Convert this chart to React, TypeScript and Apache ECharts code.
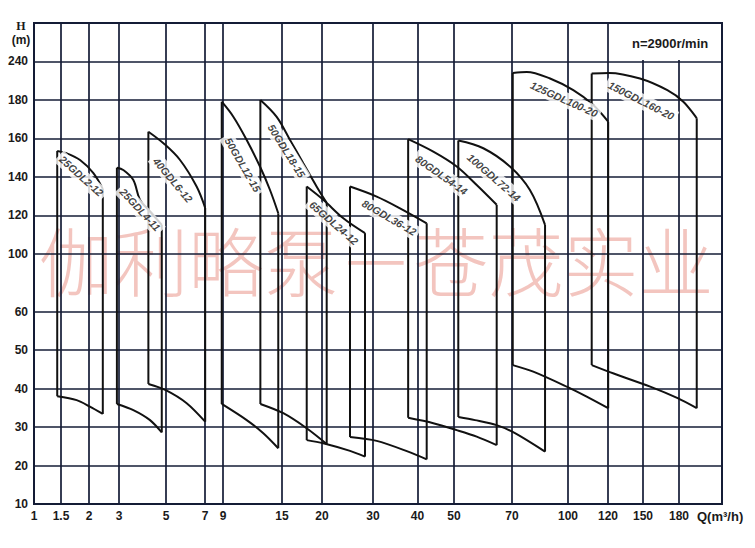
import React, { useEffect, useRef } from "react";
import * as echarts from "echarts";

// ---- axis scale (the chart uses a hand-drawn, non-uniform scale) ----
const Q_TICKS = [1, 1.5, 2, 3, 5, 7, 9, 15, 20, 30, 40, 50, 70, 100, 120, 150, 180];
const Q_TICK_POS = [0, 27, 55, 85, 132, 171, 189, 248, 288, 339, 383.5, 420, 478, 534, 574, 609, 645];
const Q_END = 220;
const Q_END_POS = 688;

const H_TICKS = [10, 20, 30, 40, 50, 60, 100, 120, 140, 160, 180, 240];
const H_TICK_POS = [0, 1, 2, 3, 4, 5, 6.5, 7.5, 8.5, 9.5, 10.5, 11.5];
const H_END = 300;
const H_END_POS = 12.5;

// ---- pump curves: [Q (m3/h), H (m)] ----
const P25GDL2_TOP = [[1.43, 153.5], [1.6, 152.3], [1.84, 148.8], [2.14, 142.1], [2.46, 133.8]];
const P25GDL2_BOT = [[1.43, 38.0], [1.78, 37.0], [2.03, 35.3], [2.46, 33.4]];

const P25GDL4_TOP = [[2.93, 144.8], [3.18, 143.6], [3.61, 138.4], [3.89, 128.1], [4.32, 122.0], [4.82, 115.1]];
const P25GDL4_BOT = [[2.93, 36.0], [3.61, 34.4], [4.32, 31.8], [4.82, 28.6]];

const P40GDL6_TOP = [[4.25, 163.5], [4.89, 157.5], [5.72, 148.8], [6.57, 135.0], [7.02, 123.9]];
const P40GDL6_BOT = [[4.25, 41.2], [4.99, 39.6], [6.06, 36.2], [7.02, 31.4]];

const P50GDL12_TOP = [[8.86, 179.1], [10.05, 171.3], [11.41, 159.2], [12.76, 145.4], [13.78, 133.2], [14.62, 121.1]];
const P50GDL12_BOT = [[8.86, 36.0], [11.41, 31.8], [13.1, 28.4], [14.62, 24.5]];

const P50GDL18_TOP = [[12.8, 180.0], [14.46, 171.2], [16.0, 159.2], [17.66, 147.1], [19.34, 134.9], [20.92, 126.5]];
const P50GDL18_BOT = [[12.8, 36.0], [15.16, 33.6], [18.08, 29.7], [20.92, 25.6]];

const P65GDL24_TOP = [[18.09, 135.0], [20.25, 128.1], [24.18, 118.5], [28.43, 110.8]];
const P65GDL24_BOT = [[18.09, 26.6], [20.25, 25.8], [25.5, 23.8], [28.43, 22.3]];

const P80GDL36_TOP = [[25.49, 135.0], [30.83, 129.8], [36.07, 123.7], [42.52, 115.9]];
const P80GDL36_BOT = [[25.49, 27.4], [30.83, 26.4], [37.9, 23.6], [42.52, 21.6]];

const P80GDL54_TOP = [[37.9, 159.6], [44.33, 153.1], [50.93, 145.4], [57.83, 135.8], [64.72, 125.5]];
const P80GDL54_BOT = [[37.9, 32.4], [44.33, 31.0], [50.93, 29.2], [57.83, 27.5], [64.72, 25.3]];

const P100GDL72_TOP = [[51.48, 158.9], [60.1, 154.9], [69.3, 145.4], [79.6, 133.2], [87.7, 115.1]];
const P100GDL72_BOT = [[51.48, 32.6], [57.24, 31.8], [64.7, 30.5], [71.6, 28.4], [87.7, 23.6]];

const P125GDL100_TOP = [[70.4, 222.2], [77.9, 223.7], [90.4, 213.4], [102.65, 195.2], [112.65, 177.4], [120.15, 168.7]];
const P125GDL100_BOT = [[70.4, 46.1], [81.4, 44.4], [99.3, 40.5], [109.35, 37.9], [120.15, 34.9]];

const P150GDL160_TOP = [[111.85, 221.2], [121.1, 222.2], [147.4, 213.4], [170.3, 195.2], [184.0, 179.1], [196.5, 170.5]];
const P150GDL160_BOT = [[111.85, 46.1], [124.9, 43.9], [156.0, 40.5], [178.9, 37.5], [196.5, 34.9]];

const PUMPS = [
  { top: P25GDL2_TOP, bot: P25GDL2_BOT },
  { top: P25GDL4_TOP, bot: P25GDL4_BOT },
  { top: P40GDL6_TOP, bot: P40GDL6_BOT },
  { top: P50GDL12_TOP, bot: P50GDL12_BOT },
  { top: P50GDL18_TOP, bot: P50GDL18_BOT },
  { top: P65GDL24_TOP, bot: P65GDL24_BOT },
  { top: P80GDL36_TOP, bot: P80GDL36_BOT },
  { top: P80GDL54_TOP, bot: P80GDL54_BOT },
  { top: P100GDL72_TOP, bot: P100GDL72_BOT },
  { top: P125GDL100_TOP, bot: P125GDL100_BOT },
  { top: P150GDL160_TOP, bot: P150GDL160_BOT },
];

// ---- curve labels ----
const LABEL_NAMES = [
  "25GDL2-12", "25GDL4-11", "40GDL6-12", "50GDL12-15", "50GDL18-15", "65GDL24-12",
  "80GDL36-12", "80GDL54-14", "100GDL72-14", "125GDL100-20", "150GDL160-20",
];
const LABEL_Q = [1.86, 3.89, 5.36, 10.98, 15.59, 22.35, 33.6, 46.6, 63.8, 97.9, 148.3];
const LABEL_H = [140.3, 122.9, 138.4, 146.2, 153.5, 116.1, 118.7, 141.0, 139.7, 181.2, 179.5];
const LABEL_ANGLE = [42, 47, 50, 60, 58, 41, 30, 35, 41, 24, 27];

const SPEED_TEXT = "n=2900r/min";
const X_NAME = "Q(m³/h)";
const Y_NAME_1 = "H";
const Y_NAME_2 = "(m)";
const WATERMARK = "伽利略泵－苍茂实业";

// ---- scale helpers ----
const Q_SCALE = [...Q_TICKS, Q_END];
const Q_POS_ALL = [...Q_TICK_POS, Q_END_POS];
const H_SCALE = [...H_TICKS, H_END];
const H_POS_ALL = [...H_TICK_POS, H_END_POS];

function interp(v: number, xs: number[], ys: number[]) {
  let i = 0;
  if (v <= xs[0]) i = 0;
  else if (v >= xs[xs.length - 1]) i = xs.length - 2;
  else {
    while (i < xs.length - 2 && v > xs[i + 1]) i++;
  }
  const t = (v - xs[i]) / (xs[i + 1] - xs[i]);
  return ys[i] + t * (ys[i + 1] - ys[i]);
}
const qPos = (q: number) => interp(q, Q_SCALE, Q_POS_ALL);
const hPos = (h: number) => interp(h, H_SCALE, H_POS_ALL);
const toXY = (p: number[]) => [qPos(p[0]), hPos(p[1])];

function lookupLabel(v: number, pos: number[], ticks: number[]) {
  for (let i = 0; i < pos.length; i++) {
    if (Math.abs(pos[i] - v) < 0.01) return String(ticks[i]);
  }
  return "";
}

const GRID = "#141c36";
const INK = "#111111";
const FONT = "'Liberation Sans', Arial, sans-serif";

export default function App() {
  const ref = useRef<HTMLDivElement>(null);

  useEffect(() => {
    if (!ref.current) return;
    const chart = echarts.init(ref.current, undefined, { renderer: "svg" });

    const series: any[] = [];
    PUMPS.forEach((p) => {
      const top = p.top;
      const bot = p.bot;
      const line = { color: INK, width: 2 };
      series.push({
        type: "line", data: top.map(toXY), smooth: 0.35, symbol: "none",
        lineStyle: line, silent: true, z: 3,
      });
      series.push({
        type: "line", data: bot.map(toXY), smooth: 0.3, symbol: "none",
        lineStyle: line, silent: true, z: 3,
      });
      series.push({
        type: "line", data: [toXY(bot[0]), toXY(top[0])], symbol: "none",
        lineStyle: line, silent: true, z: 3,
      });
      series.push({
        type: "line", data: [toXY(top[top.length - 1]), toXY(bot[bot.length - 1])], symbol: "none",
        lineStyle: line, silent: true, z: 3,
      });
    });

    series.push({
      type: "scatter",
      symbolSize: 0,
      silent: true,
      z: 6,
      data: LABEL_NAMES.map((n, i) => ({
        name: n,
        value: [qPos(LABEL_Q[i]), hPos(LABEL_H[i])],
        label: { rotate: -LABEL_ANGLE[i] },
      })),
      label: {
        show: true,
        position: "inside",
        formatter: "{b}",
        fontSize: 10.5,
        fontWeight: "bold",
        fontStyle: "italic",
        fontFamily: FONT,
        color: "#111",
        backgroundColor: "#ffffff",
        padding: [2, 3],
      },
    });

    chart.setOption({
      animation: false,
      backgroundColor: "#ffffff",
      grid: {
        left: 34, top: 23, width: 688, height: 481,
        show: true, borderColor: GRID, borderWidth: 2, backgroundColor: "transparent",
      },
      xAxis: {
        type: "value",
        min: 0,
        max: Q_END_POS,
        axisLine: { show: true, lineStyle: { color: GRID, width: 2 } },
        axisTick: {
          show: true, inside: true, length: 481, customValues: Q_TICK_POS,
          lineStyle: { color: GRID, width: 1.7 },
        },
        axisLabel: {
          customValues: Q_TICK_POS,
          formatter: (v: number) => lookupLabel(v, Q_TICK_POS, Q_TICKS),
          color: "#1a1a1a", fontSize: 12, fontWeight: "bold", fontFamily: FONT, margin: 6,
        },
        splitLine: { show: false },
      },
      yAxis: {
        type: "value",
        min: 0,
        max: H_END_POS,
        axisLine: { show: true, lineStyle: { color: GRID, width: 2 } },
        axisTick: {
          show: true, inside: true, length: 688, customValues: H_TICK_POS,
          lineStyle: { color: GRID, width: 1.7 },
        },
        axisLabel: {
          customValues: H_TICK_POS,
          formatter: (v: number) => lookupLabel(v, H_TICK_POS, H_TICKS),
          color: "#1a1a1a", fontSize: 12, fontWeight: "bold", fontFamily: FONT, margin: 6,
        },
        splitLine: { show: false },
      },
      graphic: [
        {
          type: "text", z: -10, silent: true,
          x: 376, y: 258,
          style: {
            text: WATERMARK,
            fill: "rgba(232,140,128,0.5)",
            font: "300 75px 'Noto Sans CJK SC', sans-serif",
            align: "center",
            verticalAlign: "middle",
          },
        },
        {
          type: "rect", z: 50, silent: true,
          shape: { x: 610, y: 24, width: 111, height: 36 },
          style: { fill: "#ffffff" },
        },
        {
          type: "text", x: 21, y: 26, silent: true, z: 60,
          style: { text: Y_NAME_1, fill: "#1a1a1a", font: "bold 12px 'Liberation Serif', serif", align: "center", verticalAlign: "middle" },
        },
        {
          type: "text", x: 21, y: 40, silent: true, z: 60,
          style: { text: Y_NAME_2, fill: "#1a1a1a", font: "bold 12px 'Liberation Sans', sans-serif", align: "center", verticalAlign: "middle" },
        },
        {
          type: "text", x: 632, y: 43, silent: true, z: 60,
          style: { text: SPEED_TEXT, fill: "#1a1a1a", font: "bold 13px 'Liberation Sans', sans-serif", align: "left", verticalAlign: "middle" },
        },
        {
          type: "text", x: 697, y: 516, silent: true, z: 60,
          style: { text: X_NAME, fill: "#1a1a1a", font: "bold 13px 'Liberation Sans', sans-serif", align: "left", verticalAlign: "middle" },
        },
      ],
      series,
    });

    return () => chart.dispose();
  }, []);

  return (
    <div
      ref={ref}
      style={{ position: "fixed", left: 0, top: 0, width: 755, height: 548, background: "#fff" }}
    />
  );
}
